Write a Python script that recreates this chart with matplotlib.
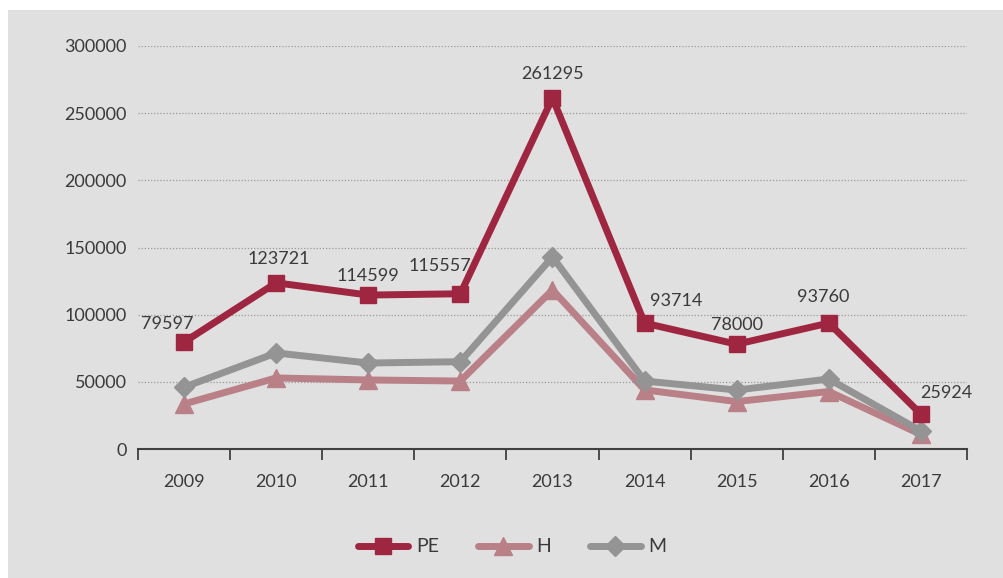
import matplotlib.pyplot as plt
from matplotlib.patches import Rectangle
import numpy as np

plt.rcParams["font.family"] = ["Lato", "DejaVu Sans"]

years = ['2009', '2010', '2011', '2012', '2013', '2014', '2015', '2016', '2017']
pe = [79597, 123721, 114599, 115557, 261295, 93714, 78000, 93760, 25924]
h = [33500, 52900, 51400, 50600, 118400, 44000, 35300, 42800, 10800]
m = [46000, 71500, 64000, 65000, 143000, 50600, 43900, 52100, 13400]

# label offsets (points) for the PE values
label_offsets = [(-12, 13), (2, 17), (0, 14), (-15, 20), (0, 17), (23, 16), (0, 14), (-4, 19), (18, 15)]

bg = '#e0e0e0'
txt = '#3a3a3a'

fig = plt.figure(figsize=(10.04, 5.78), dpi=100)
fig.patches.append(Rectangle((8 / 1004, 0), 1, 1 - 10 / 578, transform=fig.transFigure,
                             facecolor=bg, edgecolor='none', zorder=-1))
ax = fig.add_axes([138 / 1004, 1 - 449 / 578, (967 - 138) / 1004, (449 - 46) / 578])
ax.set_facecolor(bg)

x = np.arange(len(years))
ax.plot(x, pe, color='#9e2641', lw=5, marker='s', ms=11, label='PE', zorder=4, solid_capstyle='round')
ax.plot(x, h, color='#b98087', lw=5, marker='^', ms=13, label='H', zorder=2, solid_capstyle='round')
ax.plot(x, m, color='#949494', lw=5, marker='D', ms=10, label='M', zorder=3, solid_capstyle='round')

for xi, v, off in zip(x, pe, label_offsets):
    ax.annotate(str(v), (xi, v), xytext=off, textcoords='offset points',
                ha='center', va='center', fontsize=13, color=txt)

ax.set_xlim(-0.5, len(years) - 0.5)
ax.set_ylim(0, 300000)
ax.set_yticks(np.arange(0, 300001, 50000))
ax.set_yticklabels([str(v) for v in range(0, 300001, 50000)], fontsize=13, color=txt)
ax.set_xticks(x)
ax.set_xticklabels(years, fontsize=13, color=txt)
ax.set_xticks(np.arange(-0.5, len(years)), minor=True)
ax.tick_params(axis='x', which='major', length=0, pad=18)
ax.tick_params(axis='x', which='minor', length=8, width=1.3, color='#404040', direction='out')
ax.tick_params(axis='y', length=0, pad=8)

for s in ['top', 'right', 'left']:
    ax.spines[s].set_visible(False)
ax.spines['bottom'].set_color('#404040')
ax.spines['bottom'].set_linewidth(1.5)

for v in range(50000, 300001, 50000):
    ax.axhline(v, color='#9a9a9a', lw=0.9, ls=(0, (1, 1.5)), zorder=0)

leg = fig.legend(loc='center', bbox_to_anchor=(0.51, 1 - 547 / 578), ncol=3, frameon=False,
                 fontsize=14, handlelength=2.6, columnspacing=2.0, handletextpad=0.4)
for t in leg.get_texts():
    t.set_color(txt)

plt.savefig('out.png', dpi=100)
